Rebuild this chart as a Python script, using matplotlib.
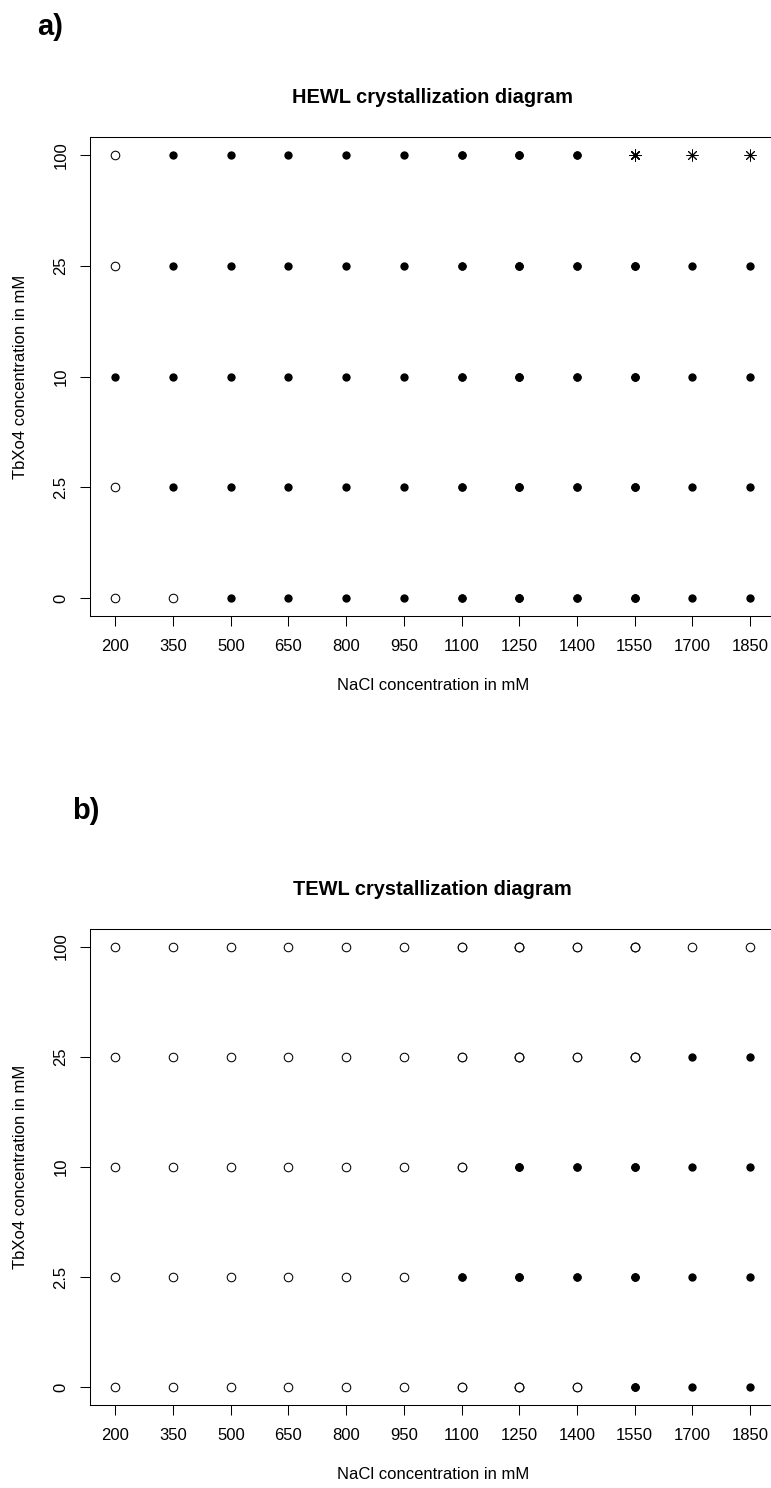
import numpy as np
import matplotlib
matplotlib.use("Agg")
import matplotlib.pyplot as plt

plt.rcParams['font.family'] = ['Liberation Sans', 'DejaVu Sans']

# concentrations
nacl = [200, 350, 500, 650, 800, 950, 1100, 1250, 1400, 1550, 1700, 1850]
tbxo4_labels = ['0', '2.5', '10', '25', '100']

# outcome per (TbXo4 row, NaCl column): o = clear, f = crystals, s = precipitate
hewl_rows = [
    'ooffffffffff',   # 0
    'offfffffffff',   # 2.5
    'ffffffffffff',   # 10
    'offfffffffff',   # 25
    'offffffffsss',   # 100
]
tewl_rows = [
    'ooooooooofff',   # 0
    'ooooooffffff',   # 2.5
    'oooooooffff' + 'f',   # 10
    'ooooooooooff',   # 25
    'oooooooooooo',   # 100
]
# number of replicate drops plotted on top of each other per NaCl column
replicates = [1, 1, 1, 1, 1, 1, 2, 3, 2, 3, 1, 1]

W, H, DPI = 771, 1488, 100
fig = plt.figure(figsize=(W / DPI, H / DPI), dpi=DPI)


def panel(rect, rows, title):
    ax = fig.add_axes(rect)
    for yi, row in enumerate(rows):
        for xi, st in enumerate(row):
            for r in range(replicates[xi]):
                if st == 'f':
                    ax.scatter(nacl[xi], yi + 1, s=36, c='black', marker='o',
                               linewidths=0, zorder=3)
                elif st == 'o':
                    ax.scatter(nacl[xi], yi + 1, s=38, facecolors='white',
                               edgecolors='black', marker='o', linewidths=0.75, zorder=3)
                else:
                    ax.scatter(nacl[xi], yi + 1, s=65, c='black', marker=(8, 2, 0),
                               linewidths=0.7, zorder=3)
    # R style 4% padding around the data
    rng = nacl[-1] - nacl[0]
    ax.set_xlim(nacl[0] - 0.04 * rng, nacl[-1] + 0.04 * rng)
    ax.set_ylim(1 - 0.16, 5 + 0.16)
    ax.set_xticks(nacl)
    ax.set_xticklabels([str(v) for v in nacl], fontsize=12)
    ax.set_yticks(np.arange(1, 6))
    ax.set_yticklabels(tbxo4_labels, fontsize=12, rotation=90, va='center')
    ax.tick_params(direction='out', length=7.5, width=0.75, color='black')
    ax.tick_params(axis='x', pad=9)
    ax.tick_params(axis='y', pad=8)
    for sp in ax.spines.values():
        sp.set_linewidth(0.75)
    ax.set_xlabel('NaCl concentration in mM', fontsize=12)
    ax.xaxis.label.set_va('center')
    ax.xaxis.set_label_coords(0.5, -0.146)
    ax.set_ylabel('TbXo4 concentration in mM', fontsize=12)
    ax.yaxis.label.set_va('center')
    ax.yaxis.set_label_coords(-0.1007, 0.5)
    ax.text(0.5, 1 + 40 / 478.0, title, transform=ax.transAxes, ha='center',
            va='center', fontsize=14.4, fontweight='bold')
    return ax


panel([90 / W, 1 - 615.7 / H, 685.4 / W, 478.4 / H], hewl_rows, 'HEWL crystallization diagram')
panel([90 / W, 1 - 1405.1 / H, 685.4 / W, 476.2 / H], tewl_rows, 'TEWL crystallization diagram')

fig.text(37 / W, 1 - 27 / H, 'a)', ha='left', va='center', fontsize=21, fontweight='bold')
fig.text(72 / W, 1 - 811 / H, 'b)', ha='left', va='center', fontsize=21, fontweight='bold')

fig.savefig('out.png', dpi=DPI)
